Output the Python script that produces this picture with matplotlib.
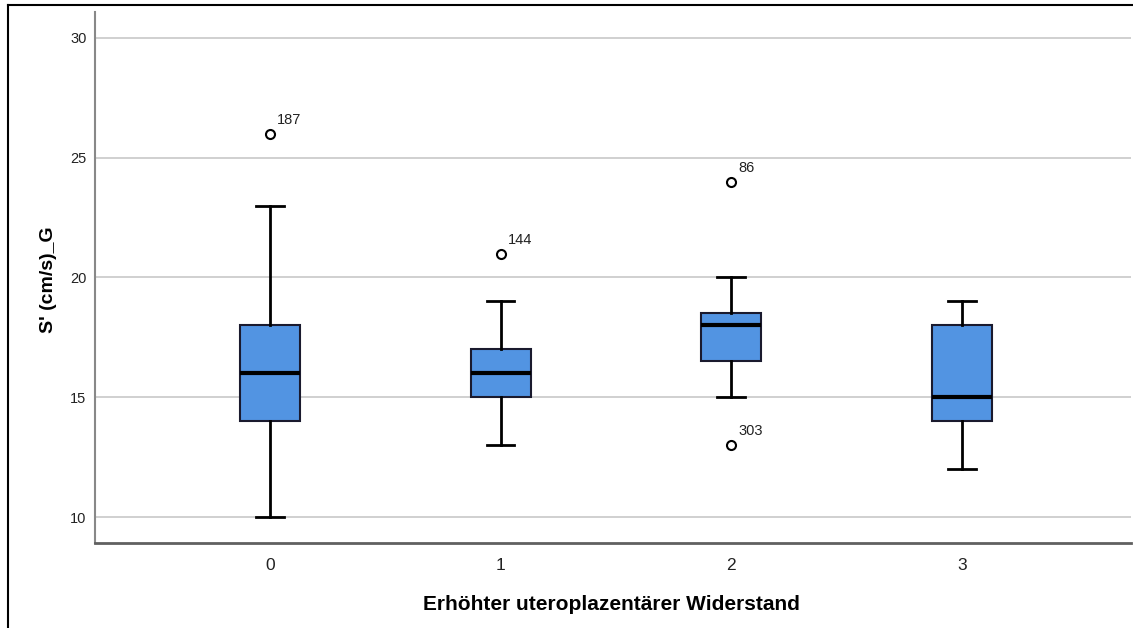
import matplotlib
matplotlib.use('Agg')
import matplotlib.pyplot as plt
from matplotlib.lines import Line2D

plt.rcParams['font.family'] = ['Liberation Sans', 'DejaVu Sans']

# box statistics
groups = ['0', '1', '2', '3']
whisker_low = [10, 13, 15, 12]
q1 = [14, 15, 16.5, 14]
medians = [16, 16, 18, 15]
q3 = [18, 17, 18.5, 18]
whisker_high = [23, 19, 20, 19]
outliers = [[26], [21], [24, 13], []]
outlier_ids = [['187'], ['144'], ['86', '303'], []]

y_ticks = [10, 15, 20, 25, 30]

stats = []
for i in range(len(groups)):
    stats.append({'whislo': whisker_low[i], 'q1': q1[i], 'med': medians[i],
                  'q3': q3[i], 'whishi': whisker_high[i], 'fliers': outliers[i]})

fig = plt.figure(figsize=(11.33, 6.28), dpi=100)
ax = fig.add_axes([0.0838, 0.1354, 0.9144, 0.8455])

pos = list(range(len(groups)))
ax.bxp(stats, positions=pos, widths=0.26, patch_artist=True, showfliers=True,
       boxprops=dict(facecolor='#5294e2', edgecolor='#1a1a2e', linewidth=1.5),
       medianprops=dict(color='black', linewidth=3),
       whiskerprops=dict(color='black', linewidth=2),
       capprops=dict(color='black', linewidth=2),
       capwidths=0.12,
       flierprops=dict(marker='o', markerfacecolor='white', markeredgecolor='black',
                       markersize=6.5, markeredgewidth=1.5))

# outlier case numbers
for i in range(len(groups)):
    for v, lab in zip(outliers[i], outlier_ids[i]):
        ax.annotate(lab, (pos[i], v), xytext=(5, 5), textcoords='offset points',
                    fontsize=10.5, color='#222222', ha='left', va='bottom')

ax.set_xlim(-0.759, 3.733)
ax.set_ylim(8.92, 31.08)
ax.set_yticks(y_ticks)
ax.set_xticks(pos)
ax.set_xticklabels(groups, fontsize=12.5, color='#222222')
ax.tick_params(axis='y', length=0, pad=6, labelsize=10.5, labelcolor='#222222')
ax.tick_params(axis='x', length=0, pad=11)
ax.yaxis.grid(True, color='#c8c8c8', linewidth=1.2, zorder=0)
ax.set_axisbelow(True)

for s in ['top', 'right']:
    ax.spines[s].set_visible(False)
ax.spines['left'].set_color('#888888')
ax.spines['left'].set_linewidth(1.5)
ax.spines['bottom'].set_color('#606060')
ax.spines['bottom'].set_linewidth(2)

ax.set_xlabel('Erhöhter uteroplazentärer Widerstand', fontsize=15, fontweight='bold')
ax.set_ylabel("S' (cm/s)_G", fontsize=14, fontweight='bold')
ax.xaxis.set_label_coords(0.4985, -0.098)
ax.yaxis.set_label_coords(-0.0367, 0.495)

# outer frame of the exported chart
fig.add_artist(Line2D([8 / 1133, 8 / 1133], [0, 1 - 5 / 628], color='black', linewidth=1.5))
fig.add_artist(Line2D([8 / 1133, 1], [1 - 5 / 628, 1 - 5 / 628], color='black', linewidth=1.5))

fig.savefig('out.png', dpi=100)
